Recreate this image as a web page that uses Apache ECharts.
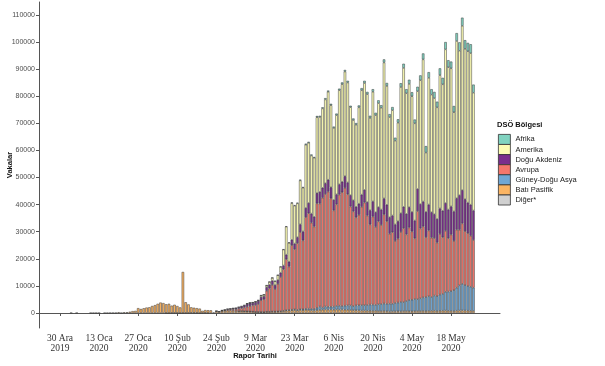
<!DOCTYPE html>
<html><head><meta charset="utf-8">
<script src="https://cdn.jsdelivr.net/npm/echarts@6/dist/echarts.min.js"></script>
<style>html,body{margin:0;padding:0;background:#fff}#c{width:605px;height:366px}</style>
</head><body><div id="c"></div><script>
// Daily categories (report dates) 23 Dec 2019 .. 4 Jun 2020
const categories = [];
(function(){ const d = new Date(Date.UTC(2019,11,23)); for (let k=0;k<165;k++){ categories.push(d.toISOString().slice(0,10)); d.setUTCDate(d.getUTCDate()+1);} })();

const tickDates = ['2019-12-30','2020-01-13','2020-01-27','2020-02-10','2020-02-24','2020-03-09','2020-03-23','2020-04-06','2020-04-20','2020-05-04','2020-05-18'];
const tickLabels = ['30 Ara\n2019','13 Oca\n2020','27 Oca\n2020','10 Şub\n2020','24 Şub\n2020','9 Mar\n2020','23 Mar\n2020','6 Nis\n2020','20 Nis\n2020','4 May\n2020','18 May\n2020'];
const yTicks = [0,10000,20000,30000,40000,50000,60000,70000,80000,90000,100000,110000];

// Region values (each array begins at its start date)
const batiPasifikStart = '2020-01-03';
const batiPasifik = [40,null,40,null,null,null,null,30,30,30,30,null,30,30,40,40,60,280,30,270,260,470,690,780,
 1790,1470,1740,2000,2110,2590,2900,3400,3850,3650,3180,3390,2650,2980,2530,2050,
 15100,3900,3100,2000,1850,1700,1600,740,1000,1000,1000,150,
 640,430,700,750,850,900,800,700,700,720,650,600,550,500,
 400,380,350,330,420,400,480,450,500,560,
 700,820,900,1000,1050,900,1100,1000,1150,1100,
 950,900,1050,1150,1200,1300,1250,1300,1200,1300,
 1250,1300,1200,1200,1100,1000,1000,950,900,900,
 850,800,750,800,700,700,750,650,550,600,
 600,650,600,700,700,650,600,650,700,700,
 750,700,750,800,850,700,800,850,900,800,
 750,700,850,900,950,900,850,800,750];

const digerStart = '2020-02-06';
const diger = [40,20,60,65,40,10,45,70,70,100,90,80,15,60,80,20];

const guneyDoguAsyaStart = '2020-03-03';
const guneyDoguAsya = [10,20,20,30,20,10,15,20,30,30,
 60,70,90,110,90,130,150,220,250,230,
 300,280,330,400,420,520,560,610,900,1250,
 820,1100,1050,1000,1150,1300,1450,1250,1500,1600,
 1700,1500,1800,1900,2000,1950,2100,2300,2350,2200,
 2500,2600,2750,2700,2900,2800,3100,3200,3500,3300,
 3700,4100,4300,4500,4400,4700,5000,5200,5400,5100,
 5600,5500,6000,6200,6900,7100,7300,7700,8500,9300,
 9800,9400,9100,8900,8600];

const avrupaStart = '2020-02-24';
const avrupa = [60,100,150,230,350,400,550,650,850,1000,1350,1700,2000,2300,
 2500,2900,4300,4700,7700,8600,9800,8300,10200,12600,
 15300,18800,16000,23800,22200,24600,28400,25400,33800,35200,
 31800,30400,38500,38000,40500,41500,42500,40000,35500,37500,
 41000,42000,43500,41000,36500,35000,32500,33400,36300,37900,
 33000,29600,32500,28800,30600,29200,32900,30500,25800,26400,
 22900,23600,25800,27300,24600,26800,25200,22400,32500,25800,
 26200,22100,24300,21900,21200,19800,22400,20900,22500,19700,
 20900,18200,21400,20500,22300,19900,19500,18800,17600];

const doguAkdenizStart = '2020-02-24';
const doguAkdeniz = [30,50,120,190,270,290,380,470,600,700,800,1000,1050,900,
 1050,1150,1200,1100,1350,1400,1550,1450,1400,1600,
 1400,1700,1800,2000,2100,2200,2900,3300,3400,3800,
 3400,3600,3800,4300,3700,4000,4400,4100,3900,3700,
 3800,3900,4300,4400,4200,4100,3900,4100,4500,4700,
 5000,5200,5600,5400,5300,5700,5900,6100,6100,6200,
 6100,6400,6900,7900,7600,7500,7200,6600,8200,9000,
 9200,9300,9600,9400,8800,8700,9400,9800,10300,10600,
 10400,10900,11600,12800,12300,11800,11300,11500,10900];

const amerikaStart = '2020-02-26';
const amerika = [10,10,10,10,20,30,40,60,80,150,150,180,
 230,240,600,620,630,990,1040,1430,1760,2140,
 5850,10310,6950,13520,13950,12470,16170,16150,23330,22180,
 21390,21790,28000,27650,29280,30900,32450,30300,26550,29200,
 34700,36000,38600,36850,32450,29600,30300,35550,38500,39400,
 39800,34100,40450,35800,38350,37550,50150,43850,36950,38850,
 30900,36400,46600,51250,44500,45500,42700,35850,36050,45700,
 52450,21900,46750,43400,42850,41200,49200,46650,56700,52500,
 50950,36600,58050,53300,60650,55500,55850,55900,43450];

const afrikaStart = '2020-03-06';
const afrika = [5,5,10,
 10,10,20,20,40,40,40,60,50,70,
 100,150,100,250,200,250,300,250,400,400,
 400,300,450,450,400,500,450,500,500,600,
 600,650,600,650,550,600,600,700,800,850,
 850,800,950,900,1050,950,1150,1100,1100,1150,
 1100,1250,1400,1550,1500,1550,1500,1400,1650,1800,
 2200,2400,2100,2000,2300,2100,2500,2400,2700,2600,
 2500,2300,2900,3100,3000,3200,3100,3300,3000];

function place(start, arr){
  const out = new Array(categories.length).fill(null);
  const s = categories.indexOf(start);
  arr.forEach((v,k)=>{ out[s+k] = v; });
  return out;
}

const regions = [
  {name:'Diğer*', color:'#d0d0d0', data:place(digerStart, diger)},
  {name:'Batı Pasifik', color:'#fbb462', data:place(batiPasifikStart, batiPasifik)},
  {name:'Güney-Doğu Asya', color:'#70a7d4', data:place(guneyDoguAsyaStart, guneyDoguAsya)},
  {name:'Avrupa', color:'#f4766b', data:place(avrupaStart, avrupa)},
  {name:'Doğu Akdeniz', color:'#7a2e8c', data:place(doguAkdenizStart, doguAkdeniz)},
  {name:'Amerika', color:'#fcfcb4', data:place(amerikaStart, amerika)},
  {name:'Afrika', color:'#80d3c0', data:place(afrikaStart, afrika)}
];
const legendOrder = ['Afrika','Amerika','Doğu Akdeniz','Avrupa','Güney-Doğu Asya','Batı Pasifik','Diğer*'];

const isTick = (idx, val) => tickDates.indexOf(val) >= 0;

const chart = echarts.init(document.getElementById('c'), null, {renderer:'canvas'});
chart.setOption({
  animation:false,
  backgroundColor:'#ffffff',
  grid:{left:39, right:105, top:2, bottom:38, containLabel:false},
  xAxis:{
    type:'category', data:categories, boundaryGap:true,
    axisLine:{show:true, lineStyle:{color:'#555', width:1}},
    axisTick:{show:true, interval:isTick, alignWithLabel:true, length:3, lineStyle:{color:'#555'}},
    axisLabel:{interval:isTick, formatter:(v)=>tickLabels[tickDates.indexOf(v)],
      fontFamily:'Liberation Serif', fontSize:9.5, color:'#333', lineHeight:10, margin:5},
    splitLine:{show:false}
  },
  yAxis:{
    type:'value', min:-5540, max:114790,
    axisLine:{show:true, lineStyle:{color:'#555', width:1}},
    axisTick:{show:true, length:3, lineStyle:{color:'#555'}, customValues:yTicks},
    axisLabel:{customValues:yTicks, formatter:(v)=>String(v), fontFamily:'Liberation Sans', fontSize:7, color:'#4d4d4d', margin:4},
    splitLine:{show:false}
  },
  legend:{
    orient:'vertical', left:498, top:134, padding:0, data:legendOrder,
    itemWidth:12, itemHeight:10, itemGap:-0.7, icon:'rect',
    itemStyle:{borderColor:'#333', borderWidth:0.8},
    textStyle:{fontFamily:'Liberation Sans', fontSize:7.5, color:'#222'},
    selectedMode:false
  },
  graphic:[
    {type:'text', left:497, top:121, style:{text:'DSÖ Bölgesi', font:'bold 7.5px "Liberation Sans"', fill:'#111'}},
    {type:'text', x:255, y:356, style:{text:'Rapor Tarihi', font:'bold 7.5px "Liberation Sans"', fill:'#111', align:'center', verticalAlign:'middle'}},
    {type:'text', x:10, y:165, rotation:Math.PI/2, style:{text:'Vakalar', font:'bold 7.5px "Liberation Sans"', fill:'#111', align:'center', verticalAlign:'middle'}}
  ],
  series: regions.map(r => ({
    name:r.name, type:'bar', stack:'total', data:r.data,
    barCategoryGap:'12%',
    itemStyle:{color:r.color, borderColor:'#3a3a3a', borderWidth:0.5},
    emphasis:{disabled:true}
  }))
});
</script></body></html>
